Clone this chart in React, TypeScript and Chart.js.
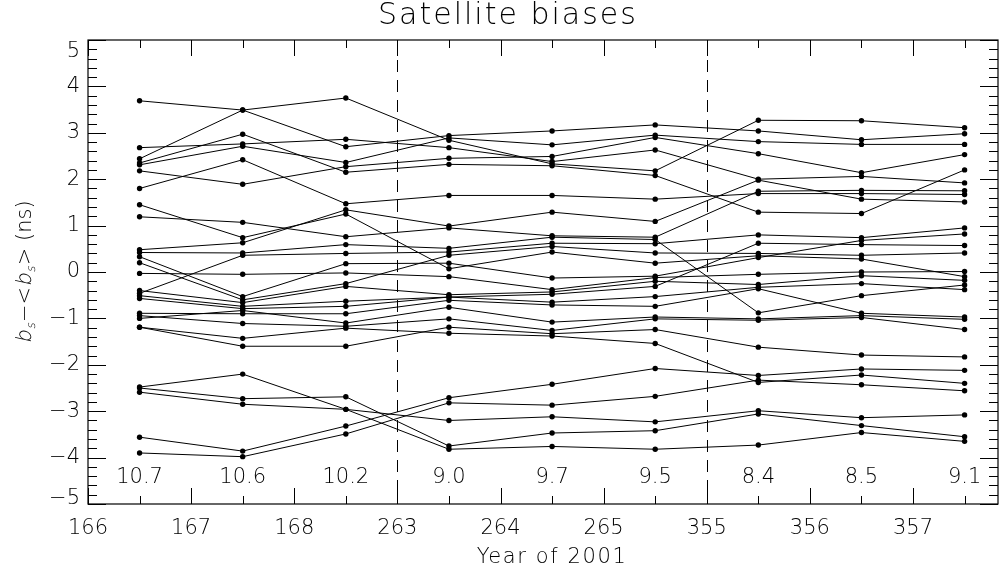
import React, { useEffect, useRef } from "react";
import { Chart, registerables } from "chart.js";

Chart.register(...registerables);

const W = 1008;
const H = 570;
const FONT_FAMILY = "'DejaVu Sans', 'Liberation Sans', sans-serif";
const FONT_WEIGHT = "200";

// Day-of-year tick labels on the x axis (one per tick index)
const dayTickValues = [0, 1, 2, 3, 4, 5, 6, 7, 8];
const dayTickLabels = ["166", "167", "168", "263", "264", "265", "355", "356", "357"];
// Positions of each daily solution and its label
const passPositions = [0.5, 1.5, 2.5, 3.5, 4.5, 5.5, 6.5, 7.5, 8.5];
const passLabels = ["10.7", "10.6", "10.2", "9.0", "9.7", "9.5", "8.4", "8.5", "9.1"];
const dayBreaks = [3, 6];
const yMajorTicks = [-5, -4, -3, -2, -1, 0, 1, 2, 3, 4, 5];

// Satellite bias series (ns)
const satA = [3.69, 3.49, 3.75, 2.84, 2.33, 2.18, 3.27, 3.26, 3.11];
const satB = [2.44, 3.49, 2.70, 2.94, 3.04, 3.17, 3.04, 2.85, 2.98];
const satC = [2.35, 2.97, 2.15, 2.32, 2.29, 2.08, 1.29, 1.26, 2.20];
const satD = [2.68, 2.76, 2.86, 2.68, 2.38, 2.63, 2.00, 2.06, 1.92];
const satE = [2.31, 2.71, 2.36, 2.89, 2.74, 2.95, 2.81, 2.75, 2.75];
const satF = [1.80, 2.42, 1.47, 1.65, 1.65, 1.57, 1.69, 1.69, 1.67];
const satG = [2.18, 1.89, 2.27, 2.45, 2.49, 2.90, 2.55, 2.14, 2.53];
const satH = [1.45, 0.74, 1.25, 0.07, 0.43, 0.19, 0.35, 0.28, -0.10];
const satI = [1.19, 1.07, 0.76, 0.95, 0.78, 0.75, 1.74, 1.76, 1.75];
const satJ = [-0.46, 0.36, 0.40, 0.43, 0.62, 0.61, 0.80, 0.74, 0.95];
const satK = [0.48, 0.63, 1.34, 0.99, 1.29, 1.09, 1.98, 1.57, 1.51];
const satL = [0.42, 0.41, 0.59, 0.51, 0.75, 0.70, -0.88, -0.51, -0.28];
const satM = [0.33, -0.53, 0.18, 0.19, -0.13, -0.09, 0.31, 0.68, 0.82];
const satN = [0.20, -0.60, -0.25, 0.36, 0.55, 0.41, 0.40, 0.36, 0.41];
const satO = [-0.03, -0.05, -0.02, -0.10, -0.38, -0.12, -0.05, 0.00, 0.01];
const satP = [-0.40, -0.66, -0.31, -0.49, -0.43, -0.20, -0.27, -0.08, -0.18];
const satQ = [-0.51, -0.74, -0.63, -0.54, -0.48, -0.31, 0.62, 0.59, 0.57];
const satR = [-0.57, -0.79, -0.74, -0.54, -0.65, -0.53, -0.33, -0.25, -0.38];
const satS = [-0.89, -0.90, -0.90, -0.61, -0.71, -0.74, -0.36, -0.89, -0.97];
const satT = [-0.94, -1.11, -1.17, -1.01, -1.26, -1.01, -1.04, -0.98, -1.24];
const satU = [-1.00, -0.83, -1.10, -0.76, -1.08, -0.97, -1.01, -0.94, -1.02];
const satV = [-1.19, -1.43, -1.21, -1.32, -1.38, -1.54, -2.38, -2.22, -2.40];
const satW = [-1.19, -1.60, -1.60, -1.19, -1.33, -1.24, -1.62, -1.79, -1.83];
const satX = [-2.48, -2.20, -2.96, -3.20, -3.12, -3.23, -2.99, -3.14, -3.08];
const satY = [-2.50, -2.73, -2.69, -3.75, -3.47, -3.42, -3.06, -3.31, -3.55];
const satZ = [-2.59, -2.85, -2.96, -3.82, -3.76, -3.82, -3.73, -3.46, -3.65];
const satAA = [-3.56, -3.86, -3.32, -2.71, -2.42, -2.08, -2.23, -2.09, -2.12];
const satAB = [-3.90, -3.98, -3.49, -2.82, -2.87, -2.68, -2.33, -2.43, -2.56];

const allSeries = [
  satA, satB, satC, satD, satE, satF, satG, satH, satI, satJ, satK, satL, satM, satN,
  satO, satP, satQ, satR, satS, satT, satU, satV, satW, satX, satY, satZ, satAA, satAB,
];

const font = (size: number) => `${FONT_WEIGHT} ${size}px ${FONT_FAMILY}`;
const yLabelText = (v: number) => (v < 0 ? "\u2212" + Math.abs(v) : String(v));

const idlFrame = {
  id: "idlFrame",
  beforeDatasetsDraw(chart: any) {
    const { ctx, chartArea: a, scales } = chart;
    const x = scales.x;
    const y = scales.y;
    ctx.save();
    ctx.strokeStyle = "#000";
    ctx.lineWidth = 1;
    ctx.setLineDash([12, 8]);
    for (const d of dayBreaks) {
      const px = Math.round(x.getPixelForValue(d)) + 0.5;
      ctx.beginPath();
      ctx.moveTo(px, a.top);
      ctx.lineTo(px, a.bottom);
      ctx.stroke();
    }
    ctx.setLineDash([]);
    ctx.fillStyle = "#000";
    ctx.font = font(21);
    ctx.textAlign = "center";
    ctx.textBaseline = "middle";
    passLabels.forEach((t, i) => {
      ctx.fillText(t, x.getPixelForValue(passPositions[i]), y.getPixelForValue(-4.44));
    });
    ctx.restore();
  },
  afterDraw(chart: any) {
    const { ctx, chartArea: a, scales } = chart;
    const x = scales.x;
    const y = scales.y;
    ctx.save();
    ctx.strokeStyle = "#000";
    ctx.lineWidth = 1.2;
    ctx.strokeRect(a.left, a.top, a.right - a.left, a.bottom - a.top);

    ctx.lineWidth = 1;
    ctx.beginPath();
    for (const v of dayTickValues) {
      const px = Math.round(x.getPixelForValue(v)) + 0.5;
      ctx.moveTo(px, a.bottom);
      ctx.lineTo(px, a.bottom - 16);
      ctx.moveTo(px, a.top);
      ctx.lineTo(px, a.top + 16);
    }
    for (const v of passPositions) {
      const px = Math.round(x.getPixelForValue(v)) + 0.5;
      ctx.moveTo(px, a.bottom);
      ctx.lineTo(px, a.bottom - 8);
      ctx.moveTo(px, a.top);
      ctx.lineTo(px, a.top + 8);
    }
    for (let k = -25; k <= 25; k++) {
      const v = k / 5;
      const py = Math.round(y.getPixelForValue(v)) + 0.5;
      const len = k % 5 === 0 ? 18 : 9;
      ctx.moveTo(a.left, py);
      ctx.lineTo(a.left + len, py);
      ctx.moveTo(a.right, py);
      ctx.lineTo(a.right - len, py);
    }
    ctx.stroke();

    ctx.fillStyle = "#000";
    // end labels of the y axis are pulled inside the frame (IDL style)
    ctx.font = font(21);
    ctx.textAlign = "right";
    ctx.textBaseline = "alphabetic";
    ctx.fillText(yLabelText(5), a.left - 8, a.top + 17);
    ctx.fillText(yLabelText(-5), a.left - 8, a.bottom);

    // titles
    ctx.textAlign = "center";
    ctx.font = font(30);
    (ctx as any).letterSpacing = "2px";
    ctx.fillText("Satellite biases", 508, 24);
    ctx.font = font(21);
    (ctx as any).letterSpacing = "1.6px";
    ctx.fillText("Year of 2001", 552, 563);
    (ctx as any).letterSpacing = "0px";

    // y axis label: b_s − <b_s> (ns)
    const parts: { t: string; size: number; dy: number; italic: boolean }[] = [
      { t: "b", size: 21, dy: 0, italic: true },
      { t: "s", size: 12, dy: 4, italic: true },
      { t: "\u2212<", size: 21, dy: 0, italic: false },
      { t: "b", size: 21, dy: 0, italic: true },
      { t: "s", size: 12, dy: 4, italic: true },
      { t: "> (ns)", size: 21, dy: 0, italic: false },
    ];
    let total = 0;
    const widths = parts.map((p) => {
      ctx.font = font(p.size);
      const w = ctx.measureText(p.t).width + (p.italic ? 1 : 0);
      total += w;
      return w;
    });
    ctx.translate(31, (a.top + a.bottom) / 2 + total / 2);
    ctx.rotate(-Math.PI / 2);
    ctx.textAlign = "left";
    let cx = 0;
    parts.forEach((p, i) => {
      ctx.save();
      ctx.font = font(p.size);
      ctx.translate(cx, p.dy);
      if (p.italic) ctx.transform(1, 0, -0.22, 1, 0, 0);
      ctx.fillText(p.t, 0, 0);
      ctx.restore();
      cx += widths[i];
    });
    ctx.restore();
  },
};

export default function App() {
  const canvasRef = useRef<HTMLCanvasElement | null>(null);

  useEffect(() => {
    const canvas = canvasRef.current;
    if (!canvas) return;
    const chart = new Chart(canvas, {
      type: "line",
      data: {
        datasets: allSeries.map((s) => ({
          data: s.map((v, i) => ({ x: passPositions[i], y: v })),
          borderColor: "#000",
          backgroundColor: "#000",
          borderWidth: 1,
          pointRadius: 2.7,
          pointHoverRadius: 2.7,
          pointBorderWidth: 0,
          pointBackgroundColor: "#000",
          tension: 0,
        })),
      },
      options: {
        responsive: false,
        animation: false,
        devicePixelRatio: 1,
        events: [],
        layout: { padding: { top: 40, right: 10, left: 0, bottom: 0 } },
        plugins: {
          legend: { display: false },
          tooltip: { enabled: false },
          title: { display: false },
        },
        scales: {
          x: {
            type: "linear",
            min: 0,
            max: 8.824,
            border: { display: false },
            grid: { display: false, drawTicks: false },
            afterFit(s: any) {
              s.height = 66;
            },
            afterBuildTicks(s: any) {
              s.ticks = dayTickValues.map((v) => ({ value: v }));
            },
            ticks: {
              autoSkip: false,
              maxRotation: 0,
              padding: 12,
              color: "#000",
              font: { family: FONT_FAMILY, size: 21, weight: FONT_WEIGHT as any },
              callback: (v: any) => {
                const idx = dayTickValues.indexOf(Number(v));
                return idx >= 0 ? dayTickLabels[idx] : "";
              },
            },
          },
          y: {
            type: "linear",
            min: -5,
            max: 5,
            border: { display: false },
            grid: { display: false, drawTicks: false },
            afterFit(s: any) {
              s.width = 88;
            },
            afterBuildTicks(s: any) {
              s.ticks = yMajorTicks.map((v) => ({ value: v }));
            },
            ticks: {
              padding: 8,
              color: (c: any) =>
                c.tick && Math.abs(c.tick.value) === 5 ? "rgba(0,0,0,0)" : "#000",
              font: { family: FONT_FAMILY, size: 21, weight: FONT_WEIGHT as any },
              callback: (v: any) => yLabelText(Number(v)),
            },
          },
        },
      },
      plugins: [idlFrame],
    });
    return () => chart.destroy();
  }, []);

  return (
    <div style={{ position: "fixed", left: 0, top: 0, width: W, height: H, background: "#fff" }}>
      <canvas ref={canvasRef} width={W} height={H} style={{ display: "block" }} />
    </div>
  );
}
